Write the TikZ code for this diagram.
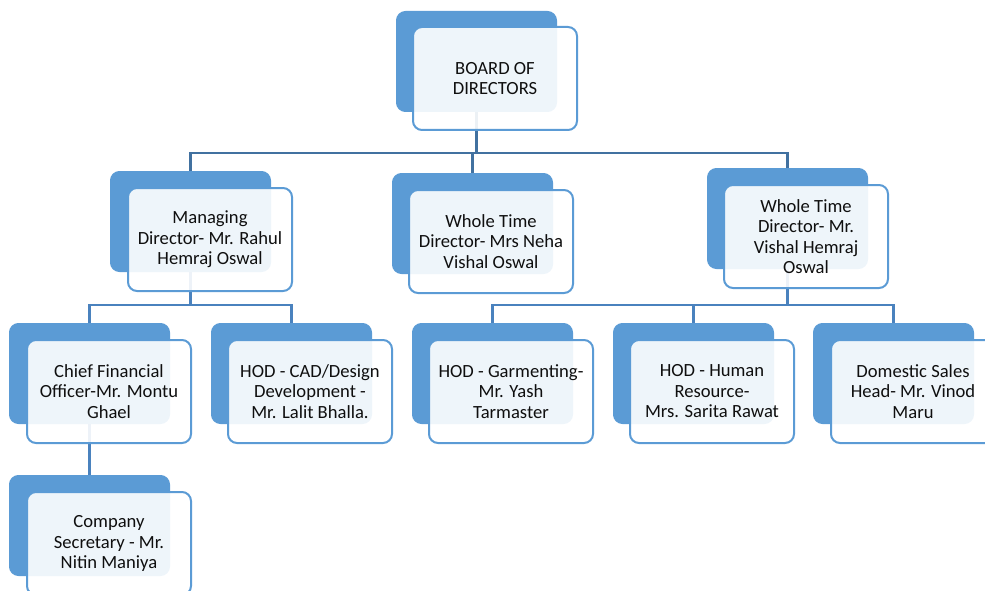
\documentclass[tikz,border=0pt]{standalone}
\usepackage{fontspec}
\setmainfont{Carlito}
\definecolor{acc}{RGB}{91,155,213}
\definecolor{lnk}{RGB}{65,113,160}
\definecolor{lnktwo}{RGB}{74,130,190}
\definecolor{txt}{RGB}{15,15,15}
\begin{document}
\begin{tikzpicture}[x=1pt,y=-1pt,
  backbox/.style={fill=acc, draw=acc, line width=1pt, rounded corners=9pt,
    minimum width=160pt, minimum height=100pt, inner sep=0pt, anchor=north west},
  frontbox/.style={draw=acc, line width=2pt, fill=white, fill opacity=0.9,
    draw opacity=1, text opacity=1, rounded corners=9pt,
    minimum width=164pt, minimum height=103pt, inner sep=1pt,
    anchor=north west, align=center,
    font=\fontsize{18.6}{20.5}\selectfont, text=txt},
  conn/.style={draw=lnk, line width=2.6pt},
  conntwo/.style={draw=lnktwo, line width=2.6pt}]
\useasboundingbox (0,0) rectangle (985,591);

% back boxes
\node[backbox] (bodB) at (396,11) {};
\node[backbox] (mdB) at (110,171) {};
\node[backbox] (nehaB) at (392,173) {};
\node[backbox] (vishB) at (707,168) {};
\node[backbox] (cfoB) at (9,323) {};
\node[backbox] (cadB) at (211,323) {};
\node[backbox] (garmB) at (412,323) {};
\node[backbox] (hrB) at (613,323) {};
\node[backbox] (domB) at (813,323) {};
\node[backbox] (csB) at (9,475) {};

% connectors
\coordinate (busA) at (0,153);
\coordinate (busB) at (0,305);
\draw[conn] (bodB.south) -- (bodB.south |- busA) -| (mdB.north);
\draw[conn] (bodB.south |- busA) -| (nehaB.north);
\draw[conn] (bodB.south |- busA) -| (vishB.north);
\draw[conntwo] (mdB.south) -- (mdB.south |- busB) -| (cfoB.north);
\draw[conntwo] (mdB.south |- busB) -| (cadB.north);
\draw[conntwo] (vishB.south) -- (vishB.south |- busB) -| (garmB.north);
\draw[conntwo] (vishB.south |- busB) -| (hrB.north);
\draw[conntwo] (vishB.south |- busB) -| (domB.north);
\draw[conntwo] (cfoB.south) -- (csB.north);

% front boxes
\node[frontbox] (bod) at (412,26) {BOARD OF\\DIRECTORS};
\node[frontbox] (md) at (127,187) {Managing\\Director- Mr. Rahul\\Hemraj Oswal};
\node[frontbox] (neha) at (408,189) {Whole Time\\Director- Mrs Neha\\Vishal Oswal};
\node[frontbox] (vish) at (723,184) {Whole Time\\Director- Mr.\\Vishal Hemraj\\Oswal};
\node[frontbox] (cfo) at (26,339) {Chief Financial\\Officer-Mr. Montu\\Ghael};
\node[frontbox] (cad) at (227,339) {HOD - CAD/Design\\Development -\\Mr. Lalit Bhalla.};
\node[frontbox] (garm) at (428,339) {HOD - Garmenting-\\Mr. Yash\\Tarmaster};
\node[frontbox] (hr) at (629,339) {HOD - Human\\Resource-\\Mrs. Sarita Rawat};
\node[frontbox] (dom) at (830,339) {Domestic Sales\\Head- Mr. Vinod\\Maru};
\node[frontbox] (cs) at (26,491) {Company\\Secretary - Mr.\\Nitin Maniya};
\end{tikzpicture}
\end{document}
